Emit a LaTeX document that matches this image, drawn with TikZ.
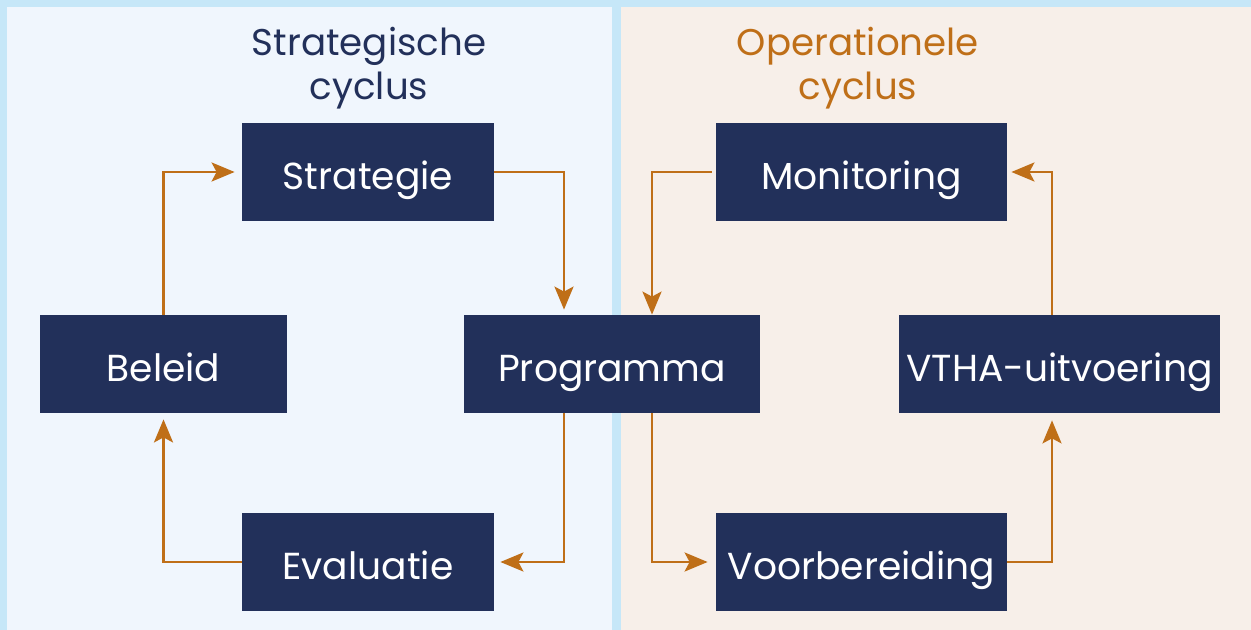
\documentclass[tikz,border=0pt]{standalone}
\usepackage{fontspec}
\setmainfont{Poppins}
\usetikzlibrary{arrows.meta}
\definecolor{rim}{HTML}{C6E7F8}
\definecolor{stratbg}{HTML}{F0F6FD}
\definecolor{operbg}{HTML}{F7EFE9}
\definecolor{navy}{HTML}{22305A}
\definecolor{amber}{HTML}{BF6F18}
\tikzset{phase/.style = {fill=navy, text=white, minimum height=49pt, inner sep=0pt, text height=17.6pt, text depth=0pt, font=\fontsize{18.8}{22}\selectfont},
  flow/.style = {draw=amber, line width=1.3pt, -{Stealth[length=11.5pt, width=9.5pt, inset=2.5pt]}},
  heading/.style = {align=center, font=\fontsize{18.6}{22}\selectfont}}

\begin{document}
\begin{tikzpicture}[x=0.5pt, y=-0.5pt]
\fill [rim] (0,0) rectangle (1251,630);
\fill [stratbg] (7,7) rectangle (612,630);
\fill [operbg] (621,7) rectangle (1251,630);
\node [heading, text=navy] (stratkop) at (369,68) {Strategische\\cyclus};
\node [heading, text=amber] (operkop) at (858,68) {Operationele\\cyclus};
\node [phase, minimum width=126pt] (strategie) at (368,172) {Strategie};
\node [phase, minimum width=145.5pt] (monitoring) at (861.5,172) {Monitoring};
\node [phase, minimum width=123.5pt] (beleid) at (163.5,364) {Beleid};
\node [phase, minimum width=148pt] (programma) at (612,364) {Programma};
\node [phase, minimum width=160.5pt] (vtha) at (1059.5,364) {VTHA-uitvoering};
\node [phase, minimum width=126pt] (evaluatie) at (368,562) {Evaluatie};
\node [phase, minimum width=145.5pt] (voorbereiding) at (861.5,562) {Voorbereiding};
\draw [flow] (strategie.east) -| ([xshift=-24pt, yshift=2.5pt]programma.north);
\draw [flow] ([xshift=-24pt]programma.south) |- ([xshift=3pt]evaluatie.east);
\draw [flow] (evaluatie.west) -| ([yshift=-3pt]beleid.south);
\draw [flow] (beleid.north) |- ([xshift=-3.5pt]strategie.west);
\draw [flow] ([xshift=-2pt]monitoring.west) -| ([xshift=20pt]programma.north);
\draw [flow] ([xshift=20pt]programma.south) |- ([xshift=-4pt]voorbereiding.west);
\draw [flow] (voorbereiding.east) -| ([xshift=-3.75pt, yshift=-3.5pt]vtha.south);
\draw [flow] ([xshift=-3.75pt]vtha.north) |- ([xshift=2pt]monitoring.east);
\end{tikzpicture}
\end{document}
